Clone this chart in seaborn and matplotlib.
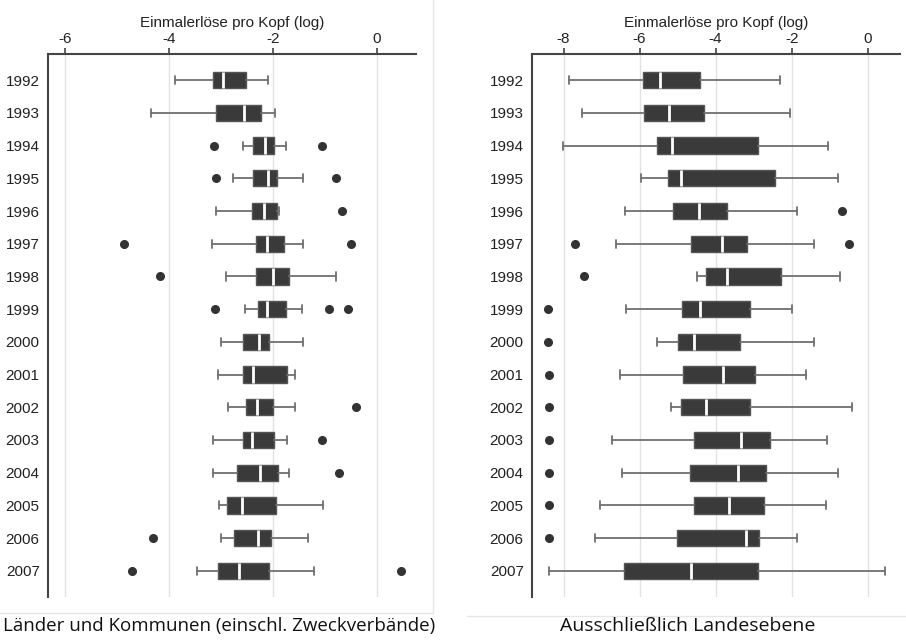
import matplotlib
matplotlib.use("Agg")
import matplotlib.pyplot as plt
from matplotlib.lines import Line2D
import seaborn as sns

sns.set_theme(style="white")
plt.rcParams['font.family'] = ['Liberation Sans', 'DejaVu Sans']

years = [str(y) for y in range(1992, 2008)]

# Länder und Kommunen (einschl. Zweckverbände)
lk_whislo = [-3.88, -4.35, -2.58, -2.78, -3.10, -3.18, -2.90, -2.54, -3.01, -3.05, -2.86, -3.15, -3.15, -3.04, -3.01, -3.47]
lk_q1 = [-3.15, -3.10, -2.38, -2.38, -2.40, -2.33, -2.33, -2.29, -2.57, -2.57, -2.52, -2.57, -2.69, -2.89, -2.76, -3.05]
lk_med = [-2.97, -2.56, -2.15, -2.10, -2.17, -2.12, -2.01, -2.11, -2.27, -2.38, -2.31, -2.40, -2.26, -2.59, -2.29, -2.65]
lk_q3 = [-2.53, -2.24, -1.98, -1.93, -1.93, -1.78, -1.70, -1.76, -2.08, -1.74, -2.00, -1.98, -1.91, -1.95, -2.04, -2.08]
lk_whishi = [-2.10, -1.96, -1.75, -1.43, -1.88, -1.42, -0.79, -1.45, -1.43, -1.58, -1.58, -1.73, -1.69, -1.03, -1.33, -1.22]
lk_fliers = [[], [], [-3.13, -1.06], [-3.10, -0.78], [-0.67], [-4.87, -0.50], [-4.17],
             [-3.11, -0.93, -0.56], [], [], [-0.40], [-1.06], [-0.74], [], [-4.31], [-4.72, 0.47]]

# Ausschließlich Landesebene
la_whislo = [-7.85, -7.51, -8.01, -5.96, -6.39, -6.61, -4.49, -6.37, -5.55, -6.51, -5.18, -6.72, -6.47, -7.05, -7.18, -8.38]
la_q1 = [-5.92, -5.89, -5.54, -5.26, -5.13, -4.66, -4.25, -4.88, -4.98, -4.85, -4.91, -4.58, -4.68, -4.58, -5.01, -6.41]
la_med = [-5.45, -5.22, -5.15, -4.91, -4.43, -3.82, -3.69, -4.41, -4.56, -3.80, -4.26, -3.32, -3.40, -3.64, -3.19, -4.66]
la_q3 = [-4.41, -4.30, -2.88, -2.43, -3.70, -3.17, -2.27, -3.09, -3.37, -2.97, -3.09, -2.58, -2.68, -2.74, -2.86, -2.88]
la_whishi = [-2.31, -2.04, -1.04, -0.79, -1.87, -1.41, -0.74, -1.98, -1.41, -1.62, -0.40, -1.06, -0.79, -1.10, -1.87, 0.46]
la_fliers = [[], [], [], [], [-0.67], [-7.70, -0.49], [-7.47], [-8.42], [-8.42], [-8.39], [-8.39],
             [-8.39], [-8.37], [-8.37], [-8.37], []]


def make_stats(lo, q1, med, q3, hi, fl):
    return [dict(whislo=a, q1=b, med=c, q3=d, whishi=e, fliers=f)
            for a, b, c, d, e, f in zip(lo, q1, med, q3, hi, fl)]


def draw_panel(ax, stats, xlim, xticks):
    ax.bxp(stats, positions=range(len(years)), widths=0.5, orientation='horizontal',
           patch_artist=True, showfliers=True,
           boxprops=dict(facecolor='#3a3a3a', edgecolor='#555555', linewidth=1),
           medianprops=dict(color='white', linewidth=2),
           whiskerprops=dict(color='#707070', linewidth=1.3),
           capprops=dict(color='#707070', linewidth=1.3),
           flierprops=dict(marker='o', markerfacecolor='#333333', markeredgecolor='#333333', markersize=5.5))
    ax.set_ylim(15.8, -0.8)
    ax.set_yticks(range(len(years)))
    ax.set_yticklabels(years, fontsize=11, color='#222222')
    ax.set_xlim(*xlim)
    ax.set_xticks(xticks)
    ax.set_xticklabels([str(t) for t in xticks], fontsize=11, color='#222222')
    ax.xaxis.tick_top()
    ax.xaxis.set_label_position('top')
    ax.set_xlabel('Einmalerlöse pro Kopf (log)', fontsize=11, color='#222222', labelpad=3)
    ax.tick_params(axis='x', direction='out', length=4, width=1.2, color='#444444', pad=2, top=True, bottom=False)
    ax.tick_params(axis='y', length=0, pad=6)
    ax.grid(axis='x', color='#e2e2e2', linewidth=1)
    ax.grid(axis='y', visible=False)
    ax.set_axisbelow(True)
    for s in ['right', 'bottom']:
        ax.spines[s].set_visible(False)
    for s in ['top', 'left']:
        ax.spines[s].set_color('#444444')
        ax.spines[s].set_linewidth(1.5)


fig = plt.figure(figsize=(9.06, 6.4), dpi=100)
W, H = 906, 640
ax1 = fig.add_axes([48 / W, (H - 597) / H, 368 / W, 543 / H])
ax2 = fig.add_axes([532 / W, (H - 597) / H, 368 / W, 543 / H])

draw_panel(ax1, make_stats(lk_whislo, lk_q1, lk_med, lk_q3, lk_whishi, lk_fliers), (-6.33, 0.75), [-6, -4, -2, 0])
draw_panel(ax2, make_stats(la_whislo, la_q1, la_med, la_q3, la_whishi, la_fliers), (-8.83, 0.85), [-8, -6, -4, -2, 0])

# panel frames
fig.add_artist(Line2D([433 / W, 433 / W], [1, (H - 613) / H], transform=fig.transFigure, color='#e6e6e6', lw=1))
fig.add_artist(Line2D([0, 433 / W], [(H - 613) / H] * 2, transform=fig.transFigure, color='#e6e6e6', lw=1))
fig.add_artist(Line2D([467 / W, 1], [(H - 616) / H] * 2, transform=fig.transFigure, color='#e6e6e6', lw=1))

fig.text(219 / W, (H - 626) / H, 'Länder und Kommunen (einschl. Zweckverbände)', ha='center', va='center',
         fontsize=13.5, family=['Open Sans', 'DejaVu Sans'], color='#111111')
fig.text(688 / W, (H - 626) / H, 'Ausschließlich Landesebene', ha='center', va='center',
         fontsize=14, family=['Open Sans', 'DejaVu Sans'], color='#111111')

fig.savefig('out.png', dpi=100)
